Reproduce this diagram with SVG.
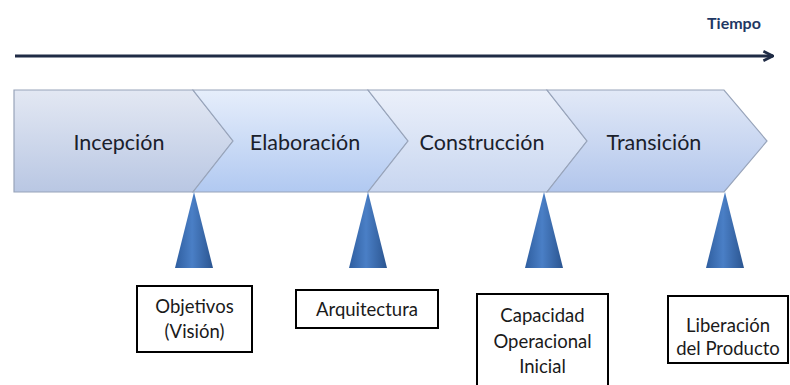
<svg xmlns="http://www.w3.org/2000/svg" width="790" height="385" viewBox="0 0 790 385">
<defs>
<linearGradient id="g1" x1="0" y1="0" x2="0" y2="1"><stop offset="0" stop-color="#e3e8f3"/><stop offset="1" stop-color="#b9c7e3"/></linearGradient>
<linearGradient id="g2" x1="0" y1="0" x2="0" y2="1"><stop offset="0" stop-color="#e6eefb"/><stop offset="1" stop-color="#b1c9f1"/></linearGradient>
<linearGradient id="g3" x1="0" y1="0" x2="0" y2="1"><stop offset="0" stop-color="#ebf0fa"/><stop offset="1" stop-color="#c8d6f0"/></linearGradient>
<linearGradient id="g4" x1="0" y1="0" x2="0" y2="1"><stop offset="0" stop-color="#e2e9f7"/><stop offset="1" stop-color="#b2c6ec"/></linearGradient>
<linearGradient id="tri" x1="0" y1="0" x2="1" y2="0"><stop offset="0" stop-color="#2f5e9f"/><stop offset="0.45" stop-color="#4a7fc6"/><stop offset="1" stop-color="#2b5590"/></linearGradient>
<marker id="arr" viewBox="0 0 10 10" refX="9" refY="5" markerWidth="4" markerHeight="4" orient="auto" markerUnits="strokeWidth"><path d="M1,1 L9,5 L1,9" fill="none" stroke="#1f2b45" stroke-width="2.2"/></marker>
</defs>
<style>
.chev{stroke:#98a4ba;stroke-width:1.2}
.lbl{font-family:Lato,"Open Sans","Liberation Sans",sans-serif;font-size:21.5px;fill:#1a202b;text-anchor:middle}
.tri{fill:url(#tri)}
.box{fill:#ffffff;stroke:#000000;stroke-width:2}
.btx{font-family:Lato,"Open Sans","Liberation Sans",sans-serif;font-size:18.5px;fill:#1a1a1a;text-anchor:middle}
</style>
<rect width="790" height="385" fill="#ffffff"/>
<g id="time-axis">
<line x1="15" y1="56" x2="773" y2="56" stroke="#1f2b45" stroke-width="3" marker-end="url(#arr)"/>
<text x="734" y="29" font-family="Lato,'Open Sans','Liberation Sans',sans-serif" font-size="16" font-weight="bold" fill="#1f3864" text-anchor="middle">Tiempo</text>
</g>
<g id="incepcion">
<path class="chev" d="M14,90 L193,90 L233,141 L193,192 L14,192 Z" fill="url(#g1)"/>
<text class="lbl" x="119" y="150">Incepción</text>
</g>
<g id="elaboracion">
<path class="chev" d="M193,90 L368,90 L408,141 L368,192 L193,192 L233,141 Z" fill="url(#g2)"/>
<text class="lbl" x="305" y="150">Elaboración</text>
</g>
<g id="construccion">
<path class="chev" d="M368,90 L547,90 L587,141 L547,192 L368,192 L408,141 Z" fill="url(#g3)"/>
<text class="lbl" x="482" y="150">Construcción</text>
</g>
<g id="transicion">
<path class="chev" d="M547,90 L724,90 L767,141 L724,192 L547,192 L587,141 Z" fill="url(#g4)"/>
<text class="lbl" x="654" y="150">Transición</text>
</g>
<g id="hito-objetivos">
<path class="tri" d="M194,192 L213,268 L175,268 Z"/>
<rect class="box" x="137" y="286" width="115" height="66"/>
<text class="btx" x="194.5" y="313">Objetivos</text>
<text class="btx" x="194.5" y="338">(Visión)</text>
</g>
<g id="hito-arquitectura">
<path class="tri" d="M368,192 L387,268 L349,268 Z"/>
<rect class="box" x="296" y="290" width="142" height="38"/>
<text class="btx" x="367" y="316">Arquitectura</text>
</g>
<g id="hito-capacidad">
<path class="tri" d="M544,192 L563,268 L525,268 Z"/>
<rect class="box" x="477" y="294" width="131" height="100"/>
<text class="btx" x="542.5" y="322">Capacidad</text>
<text class="btx" x="542.5" y="348">Operacional</text>
<text class="btx" x="542.5" y="373">Inicial</text>
</g>
<g id="hito-liberacion">
<path class="tri" d="M725,192 L744,268 L706,268 Z"/>
<rect class="box" x="668" y="296" width="120" height="67"/>
<text class="btx" x="728" y="332">Liberación</text>
<text class="btx" x="728" y="355">del Producto</text>
</g>
</svg>
